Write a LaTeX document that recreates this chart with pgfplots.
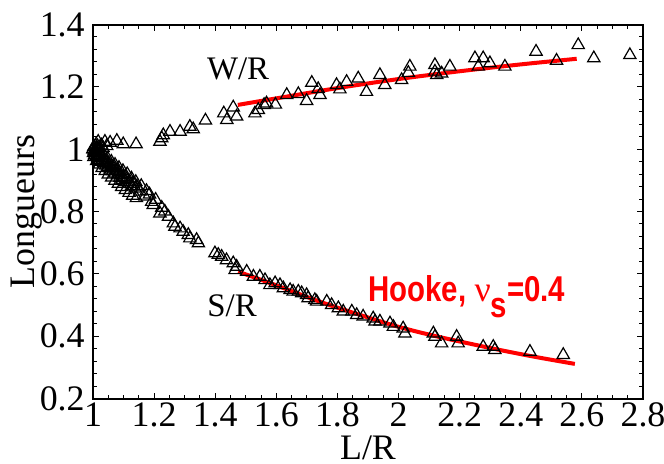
\documentclass[border=0pt]{standalone}
\usepackage{pgfplots}
\pgfplotsset{compat=1.18}
\usepackage{fontspec}
\setmainfont{Liberation Serif}
\newfontfamily\hookefont{Liberation Sans}[FakeStretch=0.82]
\newfontfamily\nufont{Liberation Serif}

% W/R : largeur / rayon
\pgfplotstableread{
x y
1.000 1.000
1.003 1.008
1.006 0.998
1.008 1.012
1.012 1.004
1.015 1.010
1.017 1.024
1.022 1.006
1.028 1.012
1.033 1.004
1.039 1.024
1.045 1.010
1.056 1.021
1.078 1.027
1.099 1.016
1.141 1.016
1.219 1.024
1.225 1.035
1.230 1.045
1.252 1.056
1.285 1.056
1.317 1.072
1.328 1.064
1.368 1.092
1.428 1.115
1.438 1.094
1.459 1.134
1.470 1.105
1.530 1.115
1.541 1.126
1.560 1.142
1.568 1.147
1.597 1.143
1.634 1.174
1.672 1.177
1.699 1.155
1.716 1.213
1.737 1.193
1.743 1.174
1.797 1.206
1.808 1.192
1.830 1.216
1.868 1.227
1.895 1.184
1.939 1.238
1.955 1.206
2.010 1.222
2.032 1.245
2.037 1.265
2.119 1.270
2.119 1.249
2.125 1.238
2.141 1.243
2.168 1.265
2.250 1.292
2.261 1.265
2.277 1.292
2.299 1.276
2.348 1.265
2.450 1.313
2.517 1.284
2.588 1.334
2.639 1.292
2.757 1.302
}\widthdata

% S/R
\pgfplotstableread{
x y
1.000 1.000
1.002 0.988
1.004 0.996
1.006 0.982
1.008 0.992
1.011 0.978
1.013 0.988
1.016 0.972
1.019 0.982
1.022 0.966
1.025 0.977
1.028 0.960
1.031 0.971
1.035 0.955
1.038 0.965
1.042 0.948
1.045 0.959
1.049 0.942
1.052 0.953
1.056 0.935
1.060 0.946
1.064 0.929
1.068 0.939
1.072 0.922
1.076 0.932
1.080 0.916
1.084 0.926
1.088 0.908
1.092 0.918
1.096 0.902
1.100 0.911
1.105 0.895
1.110 0.904
1.115 0.888
1.120 0.896
1.126 0.881
1.132 0.889
1.138 0.874
1.144 0.880
1.003 0.975
1.012 0.962
1.021 0.951
1.030 0.940
1.040 0.930
1.050 0.919
1.061 0.909
1.072 0.899
1.083 0.889
1.094 0.879
1.106 0.869
1.118 0.860
1.130 0.851
1.142 0.843
1.012 1.000
1.024 0.990
1.036 0.980
1.048 0.970
1.060 0.960
1.072 0.950
1.085 0.940
1.098 0.930
1.112 0.920
1.126 0.906
1.140 0.895
1.154 0.864
1.158 0.882
1.170 0.848
1.175 0.866
1.185 0.855
1.192 0.831
1.197 0.821
1.205 0.838
1.219 0.794
1.225 0.812
1.235 0.800
1.247 0.783
1.263 0.762
1.268 0.751
1.285 0.746
1.295 0.735
1.312 0.725
1.317 0.714
1.339 0.709
1.345 0.698
1.399 0.666
1.410 0.661
1.421 0.655
1.437 0.644
1.459 0.634
1.465 0.612
1.470 0.623
1.503 0.607
1.525 0.591
1.546 0.591
1.563 0.580
1.579 0.564
1.596 0.570
1.612 0.564
1.623 0.554
1.645 0.548
1.655 0.543
1.672 0.543
1.683 0.538
1.699 0.532
1.704 0.522
1.726 0.516
1.732 0.511
1.765 0.511
1.781 0.500
1.803 0.490
1.819 0.479
1.847 0.479
1.863 0.468
1.884 0.463
1.917 0.457
1.923 0.447
1.939 0.447
1.972 0.441
1.983 0.430
2.015 0.425
2.021 0.409
2.114 0.409
2.119 0.398
2.141 0.377
2.190 0.398
2.195 0.377
2.277 0.366
2.310 0.366
2.315 0.356
2.430 0.350
2.539 0.340
}\stemdata

% Hooke, nu_s = 0.4
\pgfplotstableread{
x y
1.474 1.142
1.600 1.163
1.800 1.196
2.000 1.225
2.200 1.250
2.400 1.272
2.583 1.290
}\hookeW

\pgfplotstableread{
x y
1.475 0.607
1.600 0.563
1.750 0.508
1.900 0.460
2.000 0.430
2.100 0.405
2.200 0.383
2.330 0.356
2.450 0.333
2.577 0.311
}\hookeS

\begin{document}
\begin{tikzpicture}
\begin{axis}[
  name=ax,
  scale only axis,
  width=275bp, height=187bp,
  xmin=1, xmax=2.8, ymin=0.2, ymax=1.4,
  xtick={1,1.2,1.4,1.6,1.8,2,2.2,2.4,2.6,2.8},
  ytick={0.2,0.4,0.6,0.8,1,1.2,1.4},
  minor x tick num=3, minor y tick num=4,
  tick align=inside,
  major tick length=3bp, minor tick length=2bp,
  every tick/.style={black, line width=0.5bp},
  axis line style={line width=1bp},
  /pgf/number format/assume math mode=true,
  tick label style={font=\fontsize{18}{20}\selectfont},
  xticklabel style={inner sep=0pt, yshift=-2bp},
  yticklabel style={inner sep=0pt, xshift=-4bp},
  xlabel={L/R}, ylabel={Longueurs},
  label style={font=\fontsize{18}{20}\selectfont},
  xlabel style={at={(axis description cs:0.5,0)}, anchor=center, yshift=-24.5bp},
  ylabel style={at={(axis description cs:0,0.5)}, anchor=center, yshift=33bp},
]
\addplot[only marks, mark=triangle, mark size=3.55bp,
  mark options={black, line width=0.6bp}] table {\widthdata};
\addplot[only marks, mark=triangle, mark size=3.55bp,
  mark options={black, line width=0.6bp}] table {\stemdata};
\addplot[red, line width=2bp, smooth] table {\hookeW};
\addplot[red, line width=2bp, smooth] table {\hookeS};

\node[anchor=base west, inner sep=0pt, font=\fontsize{16.5}{20}\selectfont]
  at (axis cs:1.372,1.222) {W/R};
\node[anchor=base west, inner sep=0pt, font=\fontsize{16.5}{20}\selectfont]
  at (axis cs:1.373,0.463) {S/R};
\node[anchor=base west, inner sep=0pt, text=red,
  font=\hookefont\bfseries\fontsize{18}{20}\selectfont]
  at (axis cs:1.9,0.511) {Hooke, {\nufont\mdseries ν}\raisebox{-8bp}{s}=0.4};
\end{axis}
\pgfresetboundingbox
\path[use as bounding box]
  ([xshift=-46.5bp,yshift=-32.75bp]ax.south west)
  rectangle ([xshift=10.5bp,yshift=12.25bp]ax.north east);
\end{tikzpicture}
\end{document}
